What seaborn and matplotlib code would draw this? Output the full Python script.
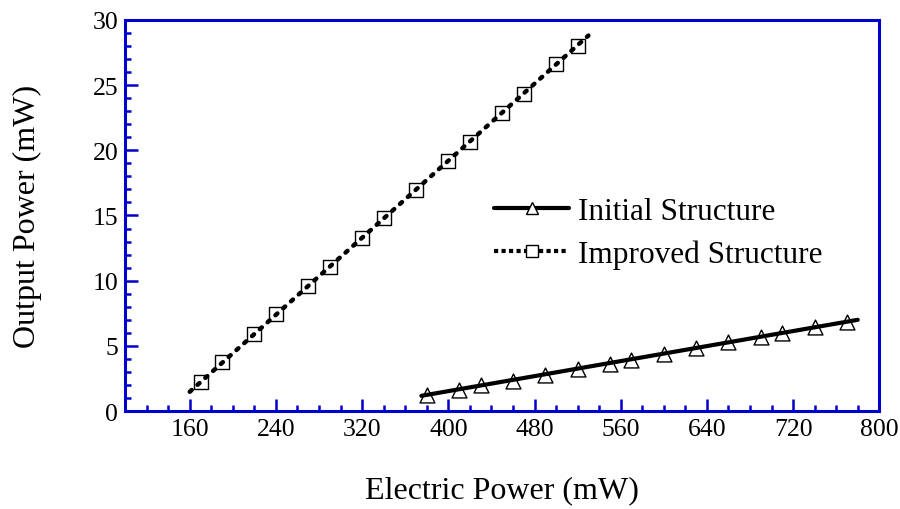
import numpy as np
import pandas as pd
import seaborn as sns
import matplotlib
matplotlib.use('Agg')
import matplotlib.pyplot as plt
from matplotlib.lines import Line2D
from matplotlib.ticker import MultipleLocator

# measured points
initial_x = [380, 410, 430, 460, 490, 520, 550, 570, 600, 630, 660, 690, 710, 740, 770]
initial_y = [1.23, 1.61, 1.97, 2.33, 2.79, 3.22, 3.63, 3.94, 4.37, 4.83, 5.27, 5.70, 5.98, 6.42, 6.85]
improved_x = [170, 190, 220, 240, 270, 290, 320, 340, 370, 400, 420, 450, 470, 500, 520]
improved_y = [2.2, 3.73, 5.9, 7.44, 9.56, 11.07, 13.24, 14.78, 16.97, 19.15, 20.65, 22.85, 24.3, 26.6, 28.0]

# fitted lines (end points)
initial_fit_x = [375, 780]
initial_fit_y = [1.17, 7.0]
improved_fit_x = [160, 530]
improved_fit_y = [1.48, 28.8]

BLUE = '#0000CC'

sns.set_style('ticks')
plt.rcParams['font.family'] = ['Liberation Serif', 'DejaVu Serif']
plt.rcParams['text.color'] = 'black'
plt.rcParams['axes.labelcolor'] = 'black'

fig = plt.figure(figsize=(9, 5.1), dpi=100)
ax = fig.add_axes([0.139, 0.192, 0.838, 0.767])

df_ini = pd.DataFrame({'x': initial_x, 'y': initial_y})
df_imp = pd.DataFrame({'x': improved_x, 'y': improved_y})

sns.scatterplot(data=df_ini, x='x', y='y', ax=ax, marker='^', s=115,
                facecolor='white', edgecolor='black', linewidth=1.0, zorder=2)
sns.scatterplot(data=df_imp, x='x', y='y', ax=ax, marker='s', s=110,
                facecolor='white', edgecolor='black', linewidth=1.0, zorder=2)

sns.lineplot(x=initial_fit_x, y=initial_fit_y, ax=ax, color='black', lw=3.0, zorder=3)
sns.lineplot(x=improved_fit_x, y=improved_fit_y, ax=ax, color='black', lw=3.2, zorder=3,
             linestyle=(0, (0.6, 1.75)), dash_capstyle='round')

ax.set_xlim(100, 800)
ax.set_ylim(0, 30)
ax.xaxis.set_minor_locator(MultipleLocator(20))
ax.yaxis.set_major_locator(MultipleLocator(5))
ax.yaxis.set_minor_locator(MultipleLocator(1))
ax.set_xticks(np.arange(160, 801, 80))

for s in ax.spines.values():
    s.set_color(BLUE)
    s.set_linewidth(2.2)
ax.tick_params(which='both', direction='in', color=BLUE, width=1.8,
               labelsize=18.5, labelcolor='black', top=False, right=False)
ax.tick_params(which='major', length=9, pad=5)
ax.tick_params(which='minor', length=4.5)

ax.set_xlabel('Electric Power (mW)', fontsize=23, labelpad=25, color='black')
ax.set_ylabel('Output Power (mW)', fontsize=23, labelpad=36, color='black')

handles = [
    Line2D([], [], color='black', lw=3.0, marker='^', markersize=8,
           markerfacecolor='white', markeredgecolor='black', markeredgewidth=1.0),
    Line2D([], [], color='black', lw=3.0, dashes=(1.0, 0.8), marker='s', markersize=8,
           markerfacecolor='white', markeredgecolor='black', markeredgewidth=1.0),
]
leg = ax.legend(handles, ['Initial Structure', 'Improved Structure'], loc='center left',
                bbox_to_anchor=(0.452, 0.455), frameon=False, fontsize=22.5,
                handlelength=2.4, handletextpad=0.3, labelspacing=0.42)
for t in leg.get_texts():
    t.set_color('black')

fig.savefig('out.png', dpi=100)
